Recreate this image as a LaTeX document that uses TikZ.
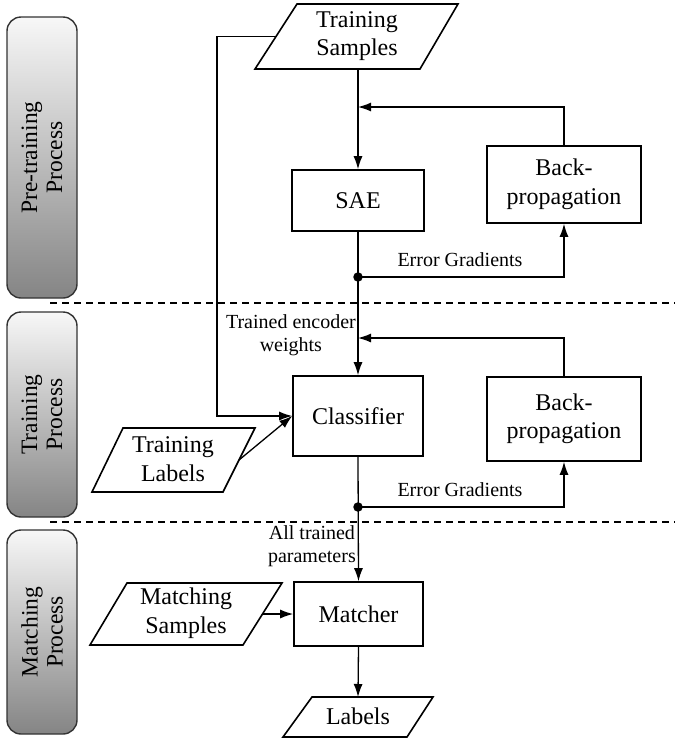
\documentclass[tikz,border=0pt]{standalone}
\usepackage{fontspec}
\setmainfont{Liberation Serif}
\usetikzlibrary{arrows.meta,calc}
\begin{document}
\begin{tikzpicture}[x=1pt,y=-1pt,
  boxfont/.style={font=\fontsize{24}{28.5}\selectfont},
  smallfont/.style={font=\fontsize{20}{23}\selectfont},
  procbox/.style={draw, line width=1.6pt, boxfont, align=center, inner sep=0pt},
  para/.style={draw, line width=1.6pt, line join=miter},
  arr/.style={line width=1.3pt, -{Latex[length=13pt,width=9pt]}},
  dot/.style={circle, fill=black, inner sep=0pt, minimum size=9.5pt},
  bar/.style={draw=black!80, line width=1.4pt, rounded corners=14pt, top color=black!3, bottom color=black!48},
  bartext/.style={rotate=90, align=center, font=\fontsize{23.5}{25}\selectfont},
  sep/.style={line width=1.1pt, dash pattern=on 7pt off 5pt}
]
\useasboundingbox (0,0) rectangle (675,740);

% side bars
\draw[bar] (7,17) rectangle (77,298);
\node[bartext] (pre) at (42,157.5) {Pre-training\\Process};
\draw[bar] (7,312) rectangle (77,517);
\node[bartext] (trn) at (42,414.5) {Training\\Process};
\draw[bar] (7,530) rectangle (77,734);
\node[bartext] (mat) at (42,632) {Matching\\Process};

% separators
\coordinate (s1a) at (50,303); \coordinate (s1b) at (675,303);
\coordinate (s2a) at (50,522); \coordinate (s2b) at (675,522);
\draw[sep] (s1a) -- (s1b);
\draw[sep] (s2a) -- (s2b);

% Training Samples
\draw[para] (255,69) -- (420,69) -- (458,4) -- (297,4) -- cycle;
\node[boxfont, align=center] (ts) at (357,36) {Training\\Samples};
\coordinate (tsW) at (276,36.5);
\coordinate (tsB) at (358,69);

% Training Labels
\draw[para] (92,492) -- (223,492) -- (255,428) -- (123,428) -- cycle;
\node[boxfont, align=center] (tl) at (173,459) {Training\\Labels};
\coordinate (tlE) at (239,460);

% Matching Samples
\draw[para] (90,645) -- (243,645) -- (282,583) -- (127,583) -- cycle;
\node[boxfont, align=center] (ms) at (186,613) {Matching\\Samples};
\coordinate (msE) at (262.5,614);

% Labels
\draw[para] (283,737) -- (407,737) -- (433,697) -- (312,697) -- cycle;
\node[boxfont] (lb) at (358,716) {Labels};
\coordinate (lbT) at (358,697);

% process boxes
\node[procbox, minimum width=132pt, minimum height=61pt] (sae) at (358,200.5) {SAE};
\node[procbox, minimum width=154pt, minimum height=77pt] (bp1) at (564,184.5) {Back-\\propagation};
\node[procbox, minimum width=130pt, minimum height=80pt] (cls) at (358,416) {Classifier};
\node[procbox, minimum width=154pt, minimum height=84pt] (bp2) at (564,419) {Back-\\propagation};
\node[procbox, minimum width=129pt, minimum height=64pt] (mch) at (358.5,614) {Matcher};

% junctions
\node[dot] (d1) at (358,277) {};
\node[dot] (d2) at (358,507) {};
\coordinate (j1) at (358,107);
\coordinate (j2) at (358,338);
\coordinate (lft) at (217,0);

% connectors
\draw[arr] (tsB) -- (sae.north);
\draw[arr] (bp1.north) |- (j1);
\draw[arr] (sae.south) -- (cls.north);
\draw[arr] (d1.center) -| (bp1.south);
\draw[arr] (bp2.north) |- (j2);
\draw[arr] (tsW) -- (tsW -| lft) |- (cls.west);
\draw[arr] (tlE) -- (cls.west);
\draw[arr] (cls.south) -- (mch.north);
\draw[arr] (d2.center) -| (bp2.south);
\draw[arr] (msE) -- (mch.west);
\draw[arr] (mch.south) -- (lbT);

% labels
\node[smallfont] (eg1) at (460,260) {Error Gradients};
\node[smallfont] (eg2) at (460,490) {Error Gradients};
\node[smallfont, anchor=east, align=center, inner sep=1pt] (lab1) at (357,335) {Trained encoder\\weights};
\node[smallfont, anchor=east, align=center, inner sep=1pt] (lab2) at (357,546) {All trained\\parameters};
\end{tikzpicture}
\end{document}
